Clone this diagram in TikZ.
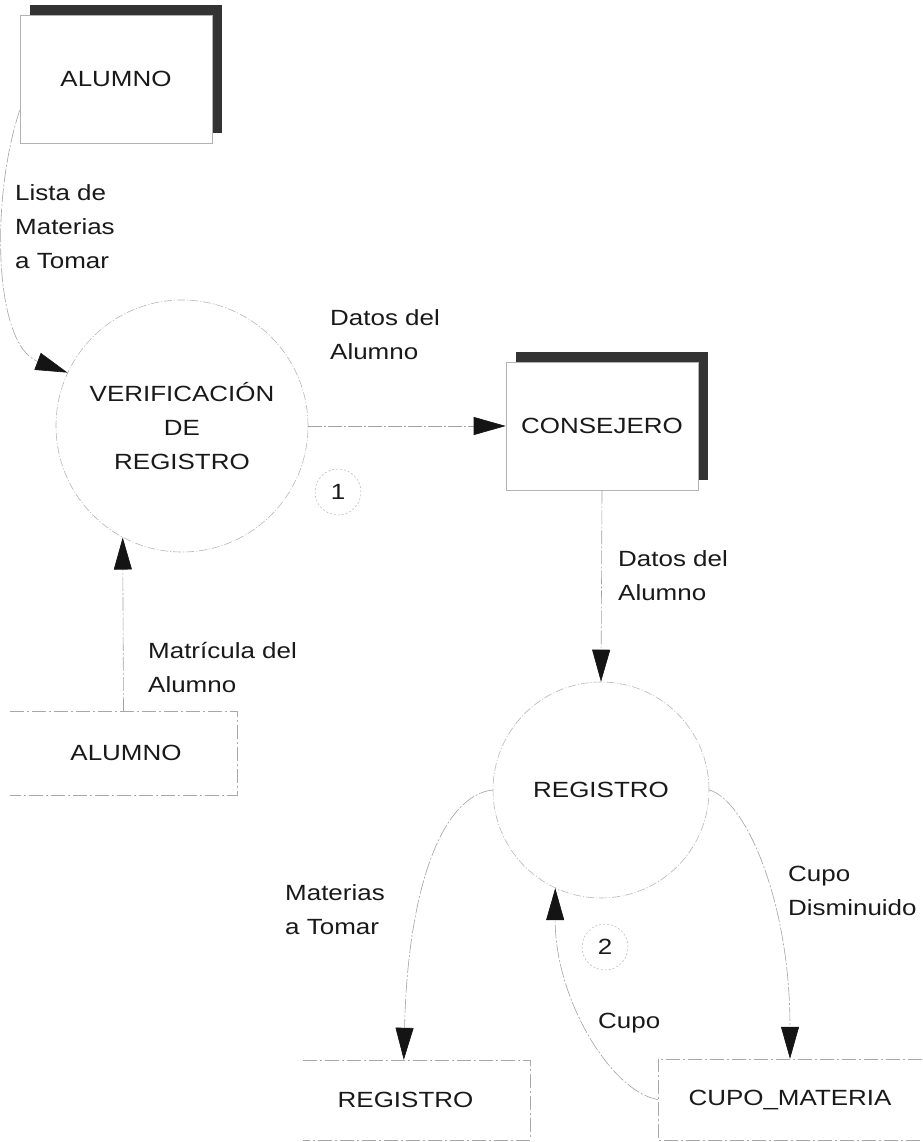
\documentclass[tikz,border=0pt]{standalone}
\usepackage{fontspec}
\setmainfont{Liberation Sans}[FakeStretch=1.18]
\usetikzlibrary{arrows.meta,shadows,calc}
\begin{document}
\begin{tikzpicture}[x=1pt,y=-1pt,
  font=\fontsize{22}{34}\selectfont,
  every node/.style={text=black!90},
  flow/.style={draw=black!36, line width=0.6pt,
    dash pattern=on 14pt off 2pt on 2pt off 2pt,
    -{Triangle[length=32pt,width=18pt,color=black!92]}},
  process/.style={circle, draw=black!28, line width=0.6pt,
    dash pattern=on 8pt off 2pt on 1pt off 2pt,
    inner sep=0pt, align=center},
  entity/.style={rectangle, draw=black!30, line width=0.6pt, fill=white,
    minimum width=192pt, minimum height=128pt, inner sep=0pt,
    general shadow={fill=black!80, shadow xshift=10pt, shadow yshift=10pt}},
  store/.style={rectangle, inner sep=0pt},
  storeline/.style={draw=black!34, line width=0.6pt,
    dash pattern=on 14pt off 3pt on 2pt off 3pt},
  num/.style={circle, draw=black!28, line width=0.5pt,
    dash pattern=on 2pt off 2pt, minimum size=46pt, inner sep=0pt},
  lbl/.style={anchor=west, align=left, inner sep=0pt}]
\useasboundingbox[fill=white] (0,0) rectangle (922,1142);

% external entities
\node[entity] (alu1) at (116,79) {ALUMNO};
\node[entity] (cons) at (602,426) {CONSEJERO};

% processes
\node[process, minimum size=252pt] (verif) at (182,426) {VERIFICACIÓN\\DE\\REGISTRO};
\node[process, minimum size=216pt] (reg) at (601,790) {REGISTRO};
\node[num] (n1) at (338,492) {1};
\node[num] (n2) at (605,947) {2};

% data stores
\node[store, minimum width=227pt, minimum height=84pt] (alu2) at (123.5,753) {ALUMNO\hspace*{-5pt}};
\node[store, minimum width=227pt, minimum height=80pt] (regs) at (416.5,1100) {REGISTRO\hspace*{22pt}};
\node[store, minimum width=264pt, minimum height=81pt] (cupo) at (790,1099.5) {CUPO\_MATERIA};
\draw[storeline] (alu2.north west) -- (alu2.north east) -- (alu2.south east) -- (alu2.south west);
\draw[storeline] (regs.north west) -- (regs.north east) -- (regs.south east) -- (regs.south west);
\draw[storeline] (cupo.north east) -- (cupo.north west) -- (cupo.south west) -- (cupo.south east);
\coordinate (regsin) at ($(regs.north west)+(101,0)$);

% flows
\draw[flow] (alu1.198) .. controls (-10,200) and (-6,345) .. (verif.155);
\draw[flow] (verif.east) -- (cons.west);
\draw[flow] (cons.south) -- (reg.north);
\draw[flow] (alu2.north) -- (verif.242);
\draw[flow] (reg.180) .. controls (445,795) and (408,880) .. (regsin);
\draw[flow] (cupo.west) .. controls (612,1092) and (555,1000) .. (reg.245);
\draw[flow] (reg.east) .. controls (745,800) and (790,900) .. (cupo.north);

% labels
\node[lbl] (t1) at (15,227) {Lista de\\Materias\\a Tomar};
\node[lbl] (t2) at (330,335) {Datos del\\Alumno};
\node[lbl] (t3) at (618,576) {Datos del\\Alumno};
\node[lbl] (t4) at (148,667) {Matrícula del\\Alumno};
\node[lbl] (t5) at (285,910) {Materias\\a Tomar};
\node[lbl] (t6) at (788,891) {Cupo\\Disminuido};
\node[lbl] (t7) at (598,1023) {Cupo};
\end{tikzpicture}
\end{document}
